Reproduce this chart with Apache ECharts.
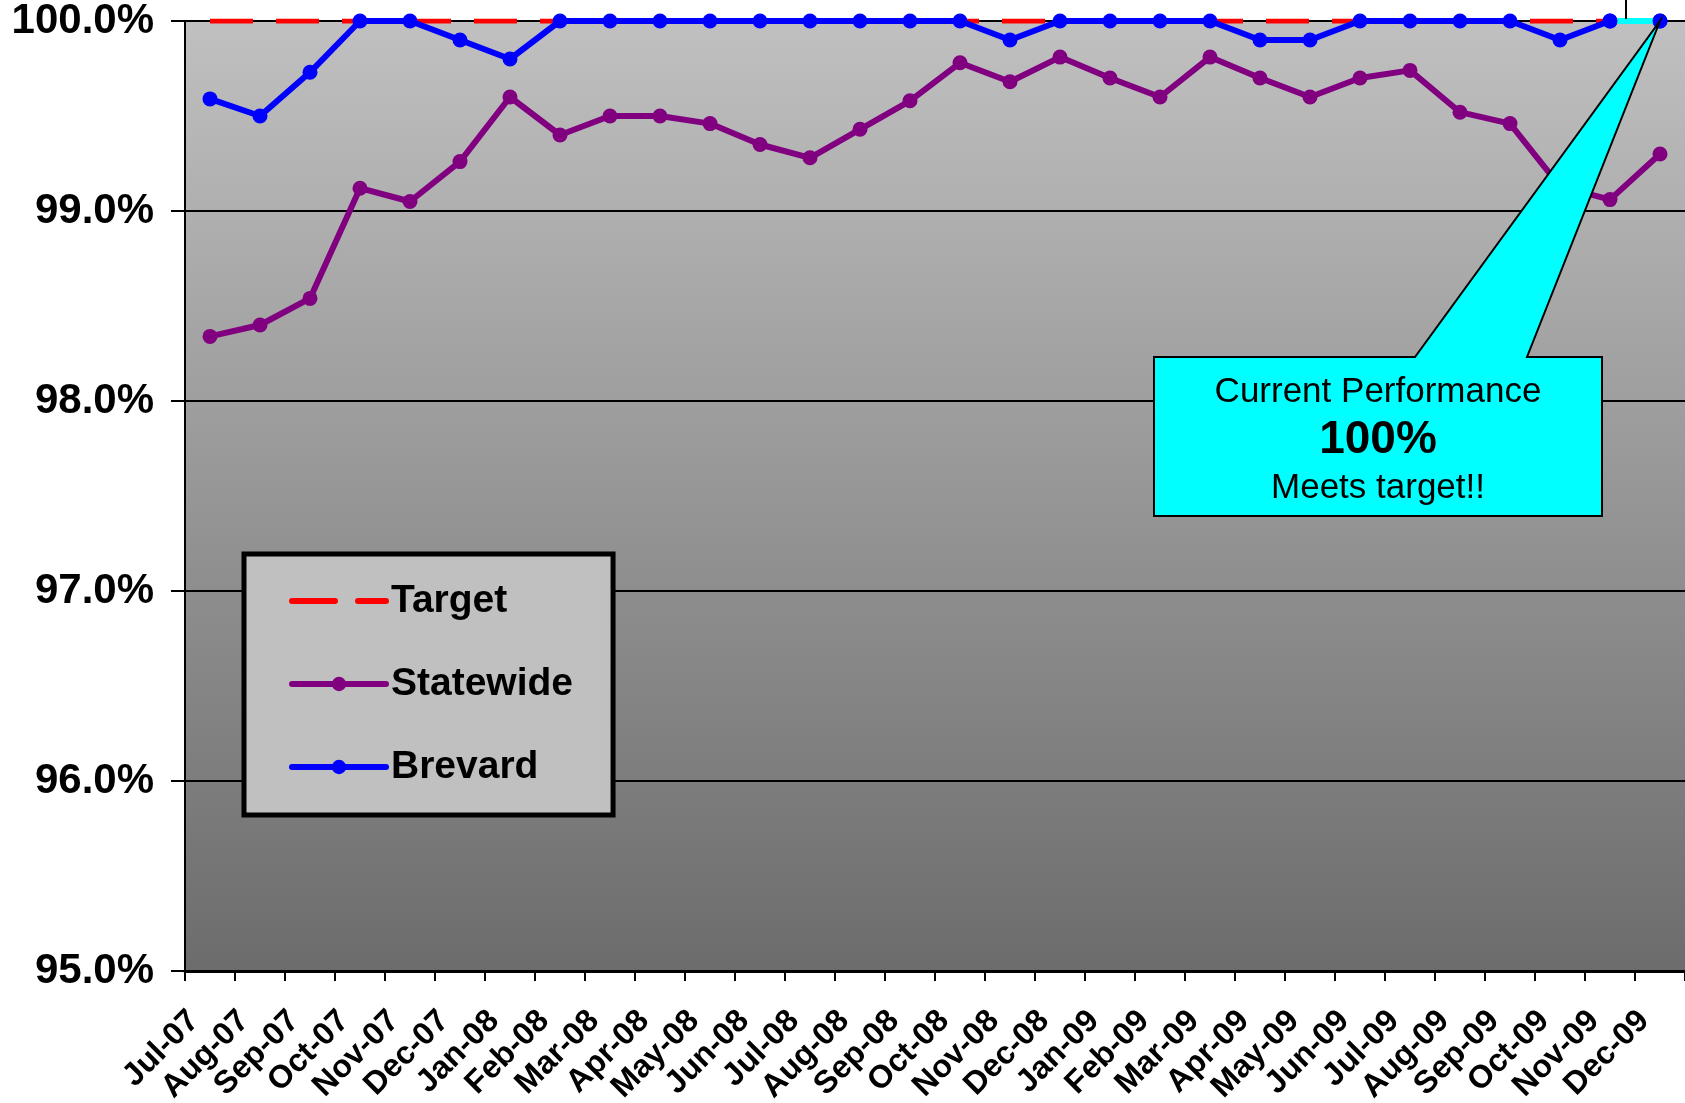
<!DOCTYPE html>
<html><head><meta charset="utf-8">
<script src="https://cdn.jsdelivr.net/npm/echarts@6/dist/echarts.min.js"></script>
<style>html,body{margin:0;padding:0;background:#fff}#c{width:1685px;height:1103px}</style>
</head><body><div id="c"></div>
<script>
const categories = ['Jul-07','Aug-07','Sep-07','Oct-07','Nov-07','Dec-07','Jan-08','Feb-08','Mar-08','Apr-08','May-08','Jun-08','Jul-08','Aug-08','Sep-08','Oct-08','Nov-08','Dec-08','Jan-09','Feb-09','Mar-09','Apr-09','May-09','Jun-09','Jul-09','Aug-09','Sep-09','Oct-09','Nov-09','Dec-09'];
const target = [100,100,100,100,100,100,100,100,100,100,100,100,100,100,100,100,100,100,100,100,100,100,100,100,100,100,100,100,100,100];
const statewide = [98.34,98.40,98.54,99.12,99.05,99.26,99.60,99.40,99.50,99.50,99.46,99.35,99.28,99.43,99.58,99.78,99.68,99.81,99.70,99.60,99.81,99.70,99.60,99.70,99.74,99.52,99.46,99.13,99.06,99.30];
const brevard = [99.59,99.50,99.73,100,100,99.90,99.80,100,100,100,100,100,100,100,100,100,99.90,100,100,100,100,99.90,99.90,100,100,100,100,99.90,100,100];
const yMin = 95, yMax = 100, yStep = 1;
const calloutLines = ['Current Performance', '100%', 'Meets target!!'];
const highlightFrom = 28; // last segment drawn in cyan

const FONT = "'Liberation Sans', Arial, sans-serif";
const chart = echarts.init(document.getElementById('c'), null, {renderer: 'canvas'});

const highlight = brevard.map((v, i) => (i >= highlightFrom ? v : null));

chart.setOption({
  animation: false,
  backgroundColor: '#ffffff',
  grid: [{
    left: 185, top: 21, right: 0, bottom: 132,
    containLabel: false, outerBoundsMode: 'none',
    show: true, borderWidth: 0,
    backgroundColor: {type: 'linear', x: 0, y: 0, x2: 0, y2: 1,
      colorStops: [{offset: 0, color: '#c0c0c0'}, {offset: 1, color: '#6c6c6c'}]}
  }, {
    // label-only grid, shifted so rotated labels sit where the original places them
    left: 169, top: 21, right: 16, bottom: 132,
    containLabel: false, outerBoundsMode: 'none', show: false
  }],
  legend: {
    orient: 'vertical', left: 244, top: 554,
    data: [{name: 'Target', itemStyle: {color: 'rgba(0,0,0,0)', borderWidth: 0}}, 'Statewide', 'Brevard'],
    backgroundColor: '#c0c0c0', borderColor: '#000', borderWidth: 5,
    padding: [25, 40, 26, 45],
    itemWidth: 94, itemHeight: 18, itemGap: 39,
    lineStyle: {width: 6, cap: 'round'},
    textStyle: {fontFamily: FONT, fontSize: 39, fontWeight: 'bold', color: '#000', lineHeight: 44},
    selectedMode: false
  },
  xAxis: [{
    type: 'category', data: categories, boundaryGap: true, gridIndex: 0,
    axisLine: {show: true, lineStyle: {color: '#000', width: 3}},
    axisTick: {show: true, interval: 0, length: 10, lineStyle: {color: '#000', width: 2}},
    axisLabel: {show: false, interval: 0},
    splitLine: {show: false}
  }, {
    type: 'category', data: categories, boundaryGap: true, gridIndex: 1,
    axisLine: {show: false}, axisTick: {show: false}, splitLine: {show: false},
    axisLabel: {interval: 0, rotate: 45, margin: 45,
      fontFamily: FONT, fontSize: 32, fontWeight: 'bold', color: '#000'}
  }],
  yAxis: [{
    type: 'value', min: yMin, max: yMax, interval: yStep, gridIndex: 0,
    axisLine: {show: true, lineStyle: {color: '#000', width: 2}},
    axisTick: {show: true, length: 14, lineStyle: {color: '#000', width: 2}},
    axisLabel: {margin: 31, fontFamily: FONT, fontSize: 42, fontWeight: 'bold', color: '#000',
      formatter: v => v.toFixed(1) + '%'},
    splitLine: {show: true, lineStyle: {color: '#000', width: 2}}
  }, {
    type: 'value', min: yMin, max: yMax, interval: yStep, gridIndex: 1, show: false
  }],
  series: [
    {name: 'Target', type: 'line', data: target, symbol: 'none', z: 2,
      itemStyle: {color: '#ff0000'},
      lineStyle: {color: '#ff0000', width: 5, type: [43, 23]}},
    {name: 'Statewide', type: 'line', data: statewide, symbol: 'circle', symbolSize: 15, z: 3,
      itemStyle: {color: '#800080'},
      lineStyle: {color: '#800080', width: 6}},
    {name: 'Brevard', type: 'line', data: brevard, symbol: 'circle', symbolSize: 15, z: 4,
      itemStyle: {color: '#0000ff'},
      lineStyle: {color: '#0000ff', width: 6}},
    {name: 'BrevardLast', type: 'line', data: highlight, symbol: 'circle', symbolSize: 15, z: 5,
      connectNulls: false,
      itemStyle: {color: '#0000ff'},
      lineStyle: {color: '#00ffff', width: 6}}
  ]
});

const tip = chart.convertToPixel({xAxisIndex: 0, yAxisIndex: 0}, [categories.length - 1, brevard[brevard.length - 1]]);
const bx0 = 1154, by0 = 357, bx1 = 1602, by1 = 516, px0 = 1415, px1 = 1527;
const cx = (bx0 + bx1) / 2;
chart.setOption({
  graphic: [
    {type: 'line', z: 100, shape: {x1: 1626, y1: 0, x2: 1626, y2: 19}, style: {stroke: '#000', lineWidth: 2}},
    {type: 'polygon', z: 100,
      shape: {points: [[bx0, by0], [px0, by0], [tip[0], tip[1]], [px1, by0], [bx1, by0], [bx1, by1], [bx0, by1]]},
      style: {fill: '#00ffff', stroke: '#000', lineWidth: 2}},
    {type: 'text', z: 101, style: {text: calloutLines[0], x: cx, y: 392, align: 'center', verticalAlign: 'middle',
      fontFamily: FONT, fontSize: 35, fill: '#000'}},
    {type: 'text', z: 101, style: {text: calloutLines[1], x: cx, y: 440, align: 'center', verticalAlign: 'middle',
      fontFamily: FONT, fontSize: 46, fontWeight: 'bold', fill: '#000'}},
    {type: 'text', z: 101, style: {text: calloutLines[2], x: cx, y: 488, align: 'center', verticalAlign: 'middle',
      fontFamily: FONT, fontSize: 35, fill: '#000'}}
  ]
});
</script></body></html>
